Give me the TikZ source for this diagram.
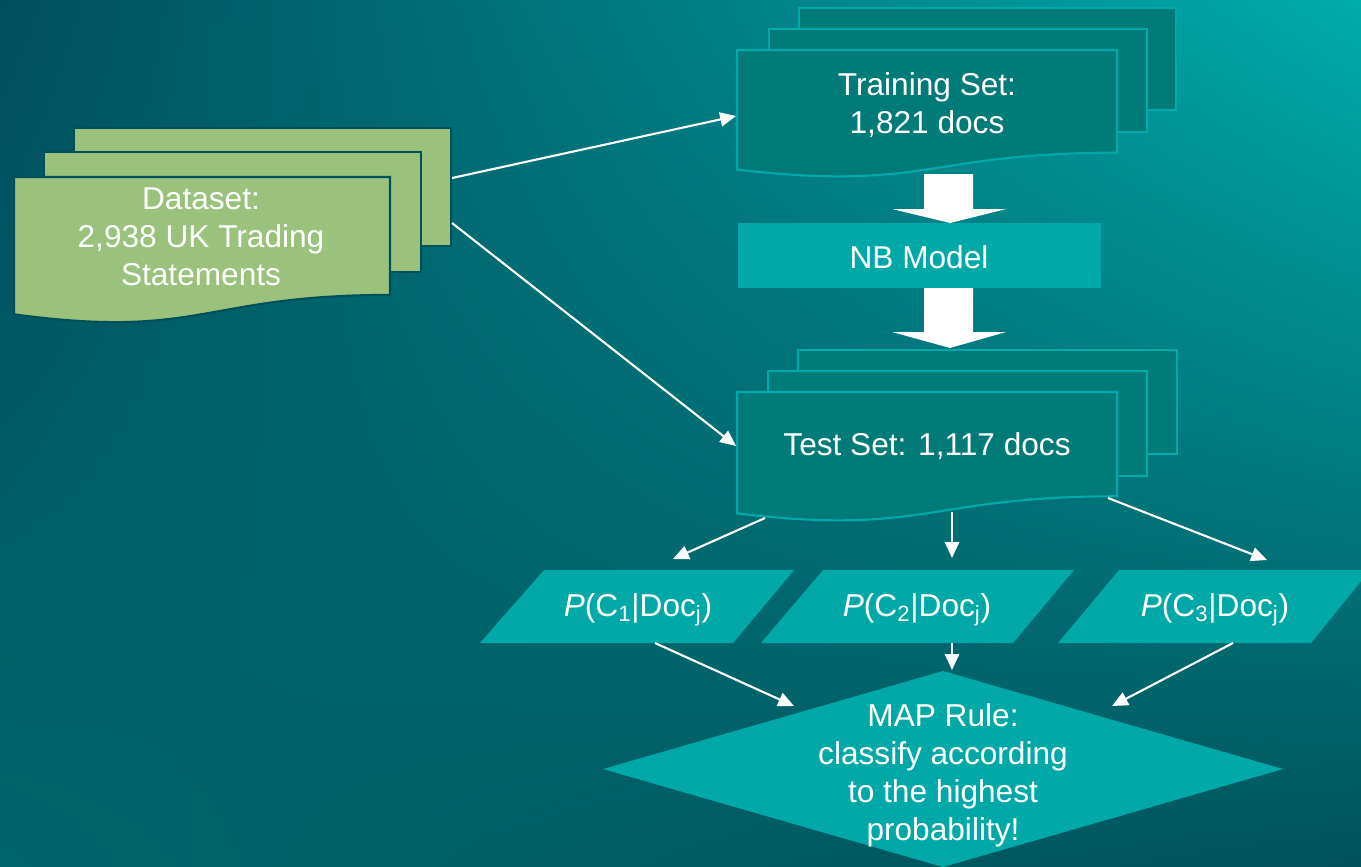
\documentclass[tikz,border=0pt]{standalone}
\usepackage{fontspec}
\setmainfont{Liberation Sans}
\usetikzlibrary{arrows.meta, shadings}
\definecolor{bgul}{HTML}{004F5C}
\definecolor{bgur}{HTML}{00ACAC}
\definecolor{bgll}{HTML}{00666B}
\definecolor{bglr}{HTML}{00525A}
\definecolor{docgreen}{HTML}{9BC27D}
\definecolor{greenedge}{HTML}{00505A}
\definecolor{docteal}{HTML}{007B78}
\definecolor{tealedge}{HTML}{00AAAA}
\definecolor{boxteal}{HTML}{00A9A8}
% document sheet with wavy bottom: style, x, y, width, height
\newcommand{\docsheet}[5]{\draw[#1] (#2,#3) -- ({#2+#4},#3) -- ({#2+#4},{#3+0.802*#5}) .. controls ({#2+0.5*#4},{#3+0.802*#5}) and ({#2+0.5*#4},{#3+1.107*#5}) .. (#2,{#3+0.934*#5}) -- cycle;}
\tikzset{
  lbl/.style={text=white, align=center, font=\fontsize{18}{21.6}\selectfont, inner sep=0pt},
  greendoc/.style={fill=docgreen, draw=greenedge, line width=1.2pt},
  tealdoc/.style={fill=docteal, draw=tealedge, line width=1.2pt},
  flow/.style={draw=white, line width=1.2pt, -{Triangle[length=9pt,width=8pt]}},
  bigarrow/.style={fill=white}
}
\begin{document}
\begin{tikzpicture}[x=0.02cm, y=-0.02cm]
	\useasboundingbox (0,0) rectangle (1361,866);
	% Background, sheets, boxes and arrows:
	\shade[upper left=bgul, upper right=bgur, lower left=bgll, lower right=bglr] (0,0) rectangle (1361,866);
	\draw[greendoc] (74,128) rectangle (451,246);
	\draw[greendoc] (44,152) rectangle (421,272);
	\docsheet{greendoc}{14}{177}{376}{147}
	\draw[tealdoc] (799,8) rectangle (1176,110);
	\draw[tealdoc] (769,29) rectangle (1147,132);
	\docsheet{tealdoc}{737}{50}{380}{128}
	\draw[tealdoc] (798,350) rectangle (1177,454);
	\draw[tealdoc] (768,371) rectangle (1147,476);
	\docsheet{tealdoc}{737}{392}{380}{130}
	\fill[bigarrow] (924,174) -- (973,174) -- (973,209) -- (1006,209) -- (950,223) -- (892,209) -- (924,209) -- cycle;
	\fill[boxteal] (738,223) rectangle (1101,288);
	\fill[bigarrow] (924,288) -- (973,288) -- (973,332) -- (1006,332) -- (950,348) -- (892,332) -- (924,332) -- cycle;
	\fill[boxteal] (544,570) -- (794,570) -- (733,643) -- (480,643) -- cycle;
	\fill[boxteal] (823,570) -- (1074,570) -- (1013,643) -- (761,643) -- cycle;
	\fill[boxteal] (1119,570) -- (1370,570) -- (1311,643) -- (1058,643) -- cycle;
	\fill[boxteal] (603,769) -- (943,671) -- (1283,769) -- (943,867) -- cycle;
	\node[lbl] (dataset) at (201,237) {Dataset:\\2,938 UK Trading\\Statements};
	\node[lbl] (train) at (927,105) {Training Set:\\1,821 docs};
	\node[lbl] (nb) at (919,257) {NB Model};
	\node[lbl] (test) at (927,446) {Test Set: 1,117 docs};
	\node[lbl] (p1) at (638,610) {\textit{P}(C\textsubscript{1}|Doc\textsubscript{j})};
	\node[lbl] (p2) at (917,610) {\textit{P}(C\textsubscript{2}|Doc\textsubscript{j})};
	\node[lbl] (p3) at (1215,610) {\textit{P}(C\textsubscript{3}|Doc\textsubscript{j})};
	\node[lbl] (map) at (943,775) {MAP Rule:\\classify according\\to the highest\\probability!};
	\coordinate (dsA) at (452,178); \coordinate (trIn) at (736,116);
	\coordinate (dsB) at (452,223); \coordinate (teIn) at (736,446);
	\coordinate (teA) at (765,518); \coordinate (p1In) at (673,559);
	\coordinate (teB) at (952,512); \coordinate (p2In) at (952,558);
	\coordinate (teC) at (1108,498); \coordinate (p3In) at (1267,560);
	\coordinate (p1Out) at (655,643); \coordinate (mapA) at (794,706);
	\coordinate (p2Out) at (952,643); \coordinate (mapB) at (952,670);
	\coordinate (p3Out) at (1233,643); \coordinate (mapC) at (1112,706);
	\draw[flow] (dsA) -- (trIn);
	\draw[flow] (dsB) -- (teIn);
	\draw[flow] (teA) -- (p1In);
	\draw[flow] (teB) -- (p2In);
	\draw[flow] (teC) -- (p3In);
	\draw[flow] (p1Out) -- (mapA);
	\draw[flow] (p2Out) -- (mapB);
	\draw[flow] (p3Out) -- (mapC);
\end{tikzpicture}
\end{document}
